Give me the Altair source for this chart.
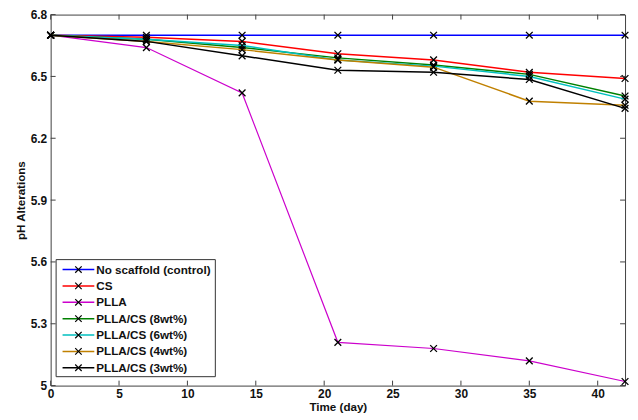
import altair as alt
import pandas as pd

days = [0, 7, 14, 21, 28, 35, 42]
series = ["No scaffold (control)", "CS", "PLLA", "PLLA/CS (8wt%)",
          "PLLA/CS (6wt%)", "PLLA/CS (4wt%)", "PLLA/CS (3wt%)"]
colors = ["#0000FF", "#FF0000", "#CC00CC", "#008000", "#00BFBF", "#C08000", "#000000"]
widths = [1.5, 1.5, 1.2, 1.5, 1.5, 1.5, 1.5]

control = [6.70, 6.70, 6.70, 6.70, 6.70, 6.70, 6.70]
cs = [6.70, 6.69, 6.67, 6.61, 6.58, 6.52, 6.49]
plla = [6.70, 6.64, 6.42, 5.21, 5.18, 5.12, 5.02]
cs8 = [6.70, 6.68, 6.64, 6.59, 6.555, 6.51, 6.405]
cs6 = [6.70, 6.68, 6.65, 6.58, 6.55, 6.50, 6.39]
cs4 = [6.70, 6.67, 6.63, 6.58, 6.545, 6.38, 6.36]
cs3 = [6.70, 6.67, 6.60, 6.53, 6.52, 6.485, 6.345]
values = [control, cs, plla, cs8, cs6, cs4, cs3]

x_ticks = [0, 5, 10, 15, 20, 25, 30, 35, 40]
y_ticks = [5.0, 5.3, 5.6, 5.9, 6.2, 6.5, 6.8]

W, H = 579, 374
FONT = "Liberation Sans"
XPATH = "M-1,-1L1,1M-1,1L1,-1"

rows = []
for name, vals in zip(series, values):
    for d, v in zip(days, vals):
        rows.append({"series": name, "day": d, "ph": v})
df = pd.DataFrame(rows)

xs = alt.Scale(domain=[0, 42], nice=False, zero=False)
ys = alt.Scale(domain=[5, 6.8], nice=False, zero=False)
xaxis = alt.Axis(values=x_ticks, grid=False, ticks=False, domain=False,
                 title="Time (day)", labelFont=FONT, labelFontSize=12,
                 labelFontWeight="bold", labelColor="#111", labelPadding=3,
                 titleFont=FONT, titleFontSize=11.7, titleFontWeight="bold",
                 titlePadding=2, titleColor="#111", labelFlush=False)
yaxis = alt.Axis(values=y_ticks, grid=False, ticks=False, domain=False,
                 title="pH Alterations", labelFont=FONT, labelFontSize=12,
                 labelFontWeight="bold", labelColor="#111", labelPadding=4,
                 titleFont=FONT, titleFontSize=11.7, titleFontWeight="bold",
                 titlePadding=4, titleColor="#111", format=".1~f", labelFlush=False)

layers = []
for name, c, w in zip(series, colors, widths):
    base = alt.Chart(df).transform_filter(alt.datum.series == name)
    layers.append(base.mark_line(color=c, strokeWidth=w).encode(
        x=alt.X("day:Q", scale=xs, axis=xaxis),
        y=alt.Y("ph:Q", scale=ys, axis=yaxis)))
    layers.append(base.mark_point(shape=XPATH, color="#000", size=46,
                                  strokeWidth=1.3, opacity=1).encode(
        x=alt.X("day:Q", scale=xs, axis=xaxis),
        y=alt.Y("ph:Q", scale=ys, axis=yaxis)))

xt = pd.DataFrame({"t": x_ticks})
yt = pd.DataFrame({"t": y_ticks})
tick_color = "#404040"
layers.append(alt.Chart(xt).mark_rule(color=tick_color).encode(
    x=alt.X("t:Q", scale=xs, axis=xaxis), y=alt.value(H), y2=alt.value(H - 5)))
layers.append(alt.Chart(xt).mark_rule(color=tick_color).encode(
    x=alt.X("t:Q", scale=xs, axis=xaxis), y=alt.value(0), y2=alt.value(5)))
layers.append(alt.Chart(yt).mark_rule(color=tick_color).encode(
    y=alt.Y("t:Q", scale=ys, axis=yaxis), x=alt.value(0), x2=alt.value(5)))
layers.append(alt.Chart(yt).mark_rule(color=tick_color).encode(
    y=alt.Y("t:Q", scale=ys, axis=yaxis), x=alt.value(W), x2=alt.value(W - 5)))

main = alt.layer(*layers)

leg_df = pd.DataFrame({"name": series, "color": colors})
ly = alt.Y("name:N", sort=series, axis=None,
           scale=alt.Scale(type="point", domain=series, range=[257, 356], padding=0))
box = alt.Chart(pd.DataFrame({"a": [0]})).mark_rect(
    fill="white", stroke="#333", strokeWidth=1).encode(
    x=alt.value(5.5), x2=alt.value(166), y=alt.value(247), y2=alt.value(365))
leg_lines = alt.Chart(leg_df).mark_rule(strokeWidth=1.5).encode(
    x=alt.value(12), x2=alt.value(44), y=ly,
    color=alt.Color("color:N", scale=None))
leg_pts = alt.Chart(leg_df).mark_point(shape=XPATH, color="#000", size=42,
                                       strokeWidth=1.2, opacity=1).encode(
    x=alt.value(28), y=ly)
leg_text = alt.Chart(leg_df).mark_text(align="left", baseline="middle", font=FONT,
                                       fontSize=11.8, fontWeight="bold",
                                       color="#111").encode(
    x=alt.value(46), y=ly, text="name:N")
legend = alt.layer(box, leg_lines, leg_pts, leg_text)

chart = alt.layer(main, legend).resolve_scale(y="independent").properties(
    width=W, height=H,
    autosize=alt.AutoSizeParams(type="none"),
    padding={"left": 43, "top": 5, "right": 5, "bottom": 30},
).configure_view(stroke="#404040", strokeWidth=1)

chart.save("out.html", embed_options={"renderer": "svg", "actions": False})
